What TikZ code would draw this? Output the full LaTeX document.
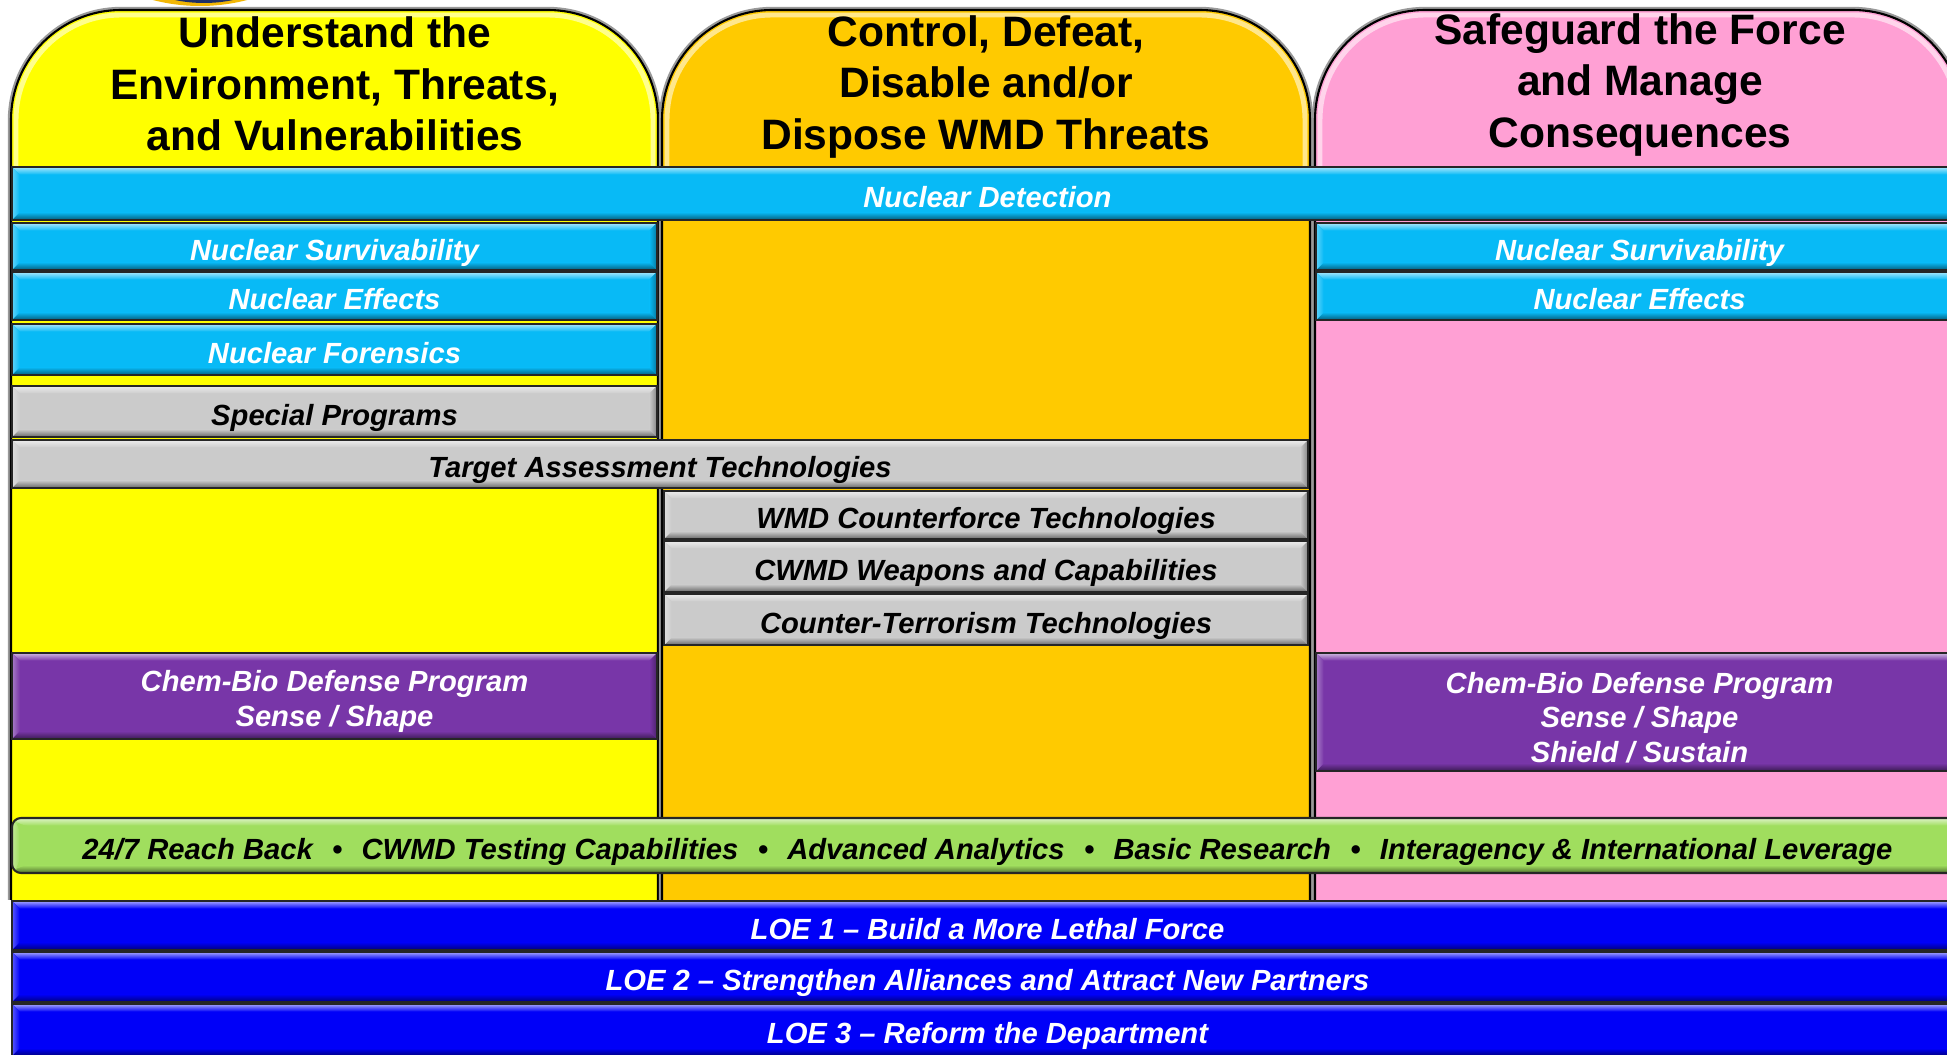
\documentclass[tikz,border=0pt]{standalone}
\usepackage{fontspec}
\setmainfont{Liberation Sans}

\definecolor{colyellow}{HTML}{FFFF00}
\definecolor{colorange}{HTML}{FFCA00}
\definecolor{colpink}{HTML}{FFA0D4}
\definecolor{barcyan}{HTML}{08BAF6}
\definecolor{bargray}{HTML}{CBCBCB}
\definecolor{barpurple}{HTML}{7836A8}
\definecolor{bargreen}{HTML}{A0DE5E}
\definecolor{barblue}{HTML}{0000F8}
\definecolor{logonavy}{HTML}{1D2F66}
\definecolor{logoring}{HTML}{F2B705}

\tikzset{
  % bar with a bevelled rim: light top and left, dark bottom and right
  bevelbar/.style={
    draw=black!85, line width=0.6pt, fill=#1, inner sep=0pt, anchor=center,
    path picture={
      \path (path picture bounding box.north west) coordinate (pnw)
            (path picture bounding box.north east) coordinate (pne)
            (path picture bounding box.south west) coordinate (psw)
            (path picture bounding box.south east) coordinate (pse);
      \shade[top color=#1!35!white, bottom color=#1]
        (pnw) -- (pne) -- ([xshift=-2.2pt,yshift=-2.2pt]pne)
        -- ([xshift=2.2pt,yshift=-2.2pt]pnw) -- cycle;
      \shade[top color=#1, bottom color=#1!50!black]
        (psw) -- (pse) -- ([xshift=-2.2pt,yshift=2.2pt]pse)
        -- ([xshift=2.2pt,yshift=2.2pt]psw) -- cycle;
      \shade[left color=#1!65!white, right color=#1]
        (pnw) -- ([xshift=2.2pt,yshift=-2.2pt]pnw)
        -- ([xshift=2.2pt,yshift=2.2pt]psw) -- (psw) -- cycle;
      \shade[left color=#1, right color=#1!65!black]
        (pne) -- ([xshift=-2.2pt,yshift=-2.2pt]pne)
        -- ([xshift=-2.2pt,yshift=2.2pt]pse) -- (pse) -- cycle;
    }
  },
  % size and place a bar from its left, top, right and bottom edges
  barspan/.style n args={4}{
    minimum width={(#3-#1)*0.01cm}, minimum height={(#4-#2)*0.01cm},
    at={({(#1+#3)/2},{(#2+#4)/2})}
  },
  bartext/.style={font=\fontsize{8.3}{9.8}\selectfont\bfseries\itshape, align=center},
  % single-line labels share one baseline position inside their bar
  oneline/.style={text height=7.8pt, text depth=0pt},
  whitetext/.style={bartext, text=white},
  blacktext/.style={bartext, text=black},
  headtext/.style={font=\fontsize{12.1}{14.6}\selectfont\bfseries, align=center, inner sep=0pt},
}

% one column: grey halo, coloured body, highlight under the rounded top, black rim
\newcommand\drawpillar[3]{%
  \draw[black!40, line width=1.8pt] (#1,900) -- (#1,120)
    arc[start angle=180, end angle=270, radius=110] -- ({#2-110},10)
    arc[start angle=270, end angle=360, radius=110] -- (#2,900);
  \fill[#3] (#1,900) -- (#1,120)
    arc[start angle=180, end angle=270, radius=110] -- ({#2-110},10)
    arc[start angle=270, end angle=360, radius=110] -- (#2,900) -- cycle;
  \draw[white, opacity=.55, line width=1.4pt] (#1+5,170) -- (#1+5,120)
    arc[start angle=180, end angle=270, radius=105] -- ({#2-110},15)
    arc[start angle=270, end angle=360, radius=105] -- (#2-5,170);
  \draw[black, line width=.6pt] (#1,900) -- (#1,120)
    arc[start angle=180, end angle=270, radius=110] -- ({#2-110},10)
    arc[start angle=270, end angle=360, radius=110] -- (#2,900);
}

% gap between the items of the enabling-capabilities bar
\newcommand\sepdot{\hspace{5.5pt}•\hspace{5.5pt}}
% strut that lowers a multi-line label a little inside its bar
\newcommand\lowerstrut{\rule{0pt}{9.2pt}}

\begin{document}
\begin{tikzpicture}[x=0.01cm, y=-0.01cm]
\useasboundingbox (0,0) rectangle (1947,1055);
\fill[white] (0,0) rectangle (1947,1055);
\clip (0,0) rectangle (1947,1055);

% emblem peeking in at the top edge
\fill[logoring] (200,-181) circle[radius=187];
\fill[logonavy] (204,-139) circle[radius=142];

% the three columns
\drawpillar{11}{658}{colyellow}
\drawpillar{662}{1310}{colorange}
\drawpillar{1315}{1963}{colpink}

% column headings
\node[headtext] (head1) at (335,84) {Understand the\\Environment, Threats,\\and Vulnerabilities};
\node[headtext] (head2) at (986,87) {Control, Defeat,\\Disable and/or\\Dispose WMD Threats};
\node[headtext] (head3) at (1640,85) {Safeguard the Force\\and Manage\\Consequences};

% nuclear programmes
\node[bevelbar=barcyan, whitetext, oneline, barspan={12}{167}{1963}{220}] (nucdet) {Nuclear Detection};
\node[bevelbar=barcyan, whitetext, oneline, barspan={12}{223}{657}{270}] (nucsurvL) {Nuclear Survivability};
\node[bevelbar=barcyan, whitetext, oneline, barspan={1316}{223}{1963}{270}] (nucsurvR) {Nuclear Survivability};
\node[bevelbar=barcyan, whitetext, oneline, barspan={12}{272}{657}{320}] (nuceffL) {Nuclear Effects};
\node[bevelbar=barcyan, whitetext, oneline, barspan={1316}{272}{1963}{320}] (nuceffR) {Nuclear Effects};
\node[bevelbar=barcyan, whitetext, oneline, barspan={12}{324}{657}{375}] (nucfor) {Nuclear Forensics};

% grey programmes
\node[bevelbar=bargray, blacktext, oneline, barspan={12}{386}{657}{437}] (special) {Special Programs};
\node[bevelbar=bargray, blacktext, oneline, barspan={12}{440}{1308}{488}] (target) {Target Assessment Technologies};
\node[bevelbar=bargray, blacktext, oneline, barspan={664}{491}{1308}{539}] (counterforce) {WMD Counterforce Technologies};
\node[bevelbar=bargray, blacktext, oneline, barspan={664}{541}{1308}{592}] (weapons) {CWMD Weapons and Capabilities};
\node[bevelbar=bargray, blacktext, oneline, barspan={664}{594}{1308}{645}] (terror) {Counter-Terrorism Technologies};

% chem-bio defence
\node[bevelbar=barpurple, whitetext, barspan={12}{653}{657}{739}] (cbdpL) {\lowerstrut Chem-Bio Defense Program\\Sense / Shape};
\node[bevelbar=barpurple, whitetext, barspan={1316}{653}{1963}{771}] (cbdpR) {\lowerstrut Chem-Bio Defense Program\\Sense / Shape\\Shield / Sustain};

% enabling capabilities
\node[bevelbar=bargreen, blacktext, oneline, rounded corners=0.09cm, barspan={12}{818}{1963}{873}] (enablers)
  {24/7 Reach Back\sepdot CWMD Testing Capabilities\sepdot Advanced Analytics\sepdot Basic Research\sepdot Interagency \& International Leverage};

% lines of effort
\node[bevelbar=barblue, whitetext, oneline, barspan={12}{901}{1963}{950}] (loe1) {LOE 1 – Build a More Lethal Force};
\node[bevelbar=barblue, whitetext, oneline, barspan={12}{952}{1963}{1002}] (loe2) {LOE 2 – Strengthen Alliances and Attract New Partners};
\node[bevelbar=barblue, whitetext, oneline, barspan={12}{1004}{1963}{1056}] (loe3) {LOE 3 – Reform the Department};
\end{tikzpicture}
\end{document}
